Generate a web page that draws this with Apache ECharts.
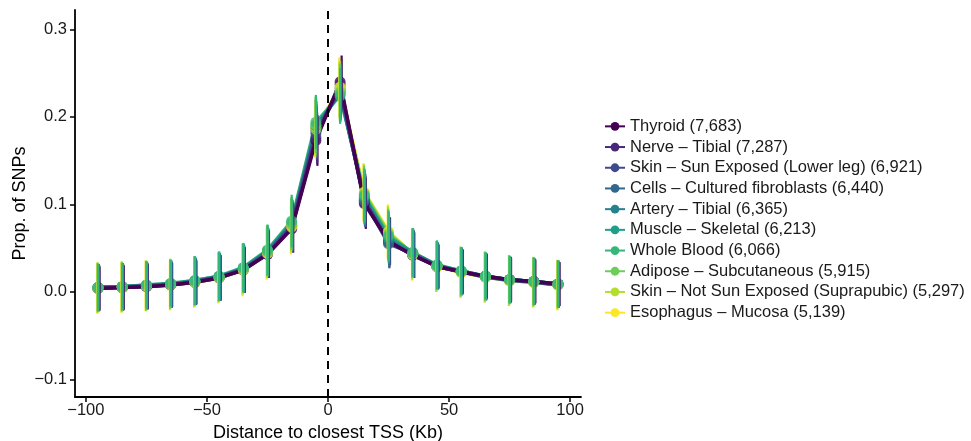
<!DOCTYPE html>
<html>
<head>
<meta charset="utf-8">
<script src="https://cdn.jsdelivr.net/npm/echarts@6/dist/echarts.min.js"></script>
<style>
  html, body { margin: 0; padding: 0; background: #ffffff; }
  #chart { width: 971px; height: 441px; }
</style>
</head>
<body>
<div id="chart"></div>
<script>
// Bin centres (Kb from the closest TSS)
const distances = [-95, -85, -75, -65, -55, -45, -35, -25, -15, -5, 5, 15, 25, 35, 45, 55, 65, 75, 85, 95];

// Tissue labels (number of SNPs in brackets)
const tissues = [
  'Thyroid (7,683)',
  'Nerve \u2013 Tibial (7,287)',
  'Skin \u2013 Sun Exposed (Lower leg) (6,921)',
  'Cells \u2013 Cultured fibroblasts (6,440)',
  'Artery \u2013 Tibial (6,365)',
  'Muscle \u2013 Skeletal (6,213)',
  'Whole Blood (6,066)',
  'Adipose \u2013 Subcutaneous (5,915)',
  'Skin \u2013 Not Sun Exposed (Suprapubic) (5,297)',
  'Esophagus \u2013 Mucosa (5,139)'
];

// Proportion of SNPs per bin, one list per tissue
const thyroid   = [0.004, 0.005, 0.006, 0.008, 0.011, 0.016, 0.025, 0.043, 0.072, 0.173, 0.240, 0.101, 0.058, 0.042, 0.029, 0.023, 0.018, 0.014, 0.012, 0.009];
const nerve     = [0.004, 0.005, 0.006, 0.008, 0.011, 0.016, 0.025, 0.043, 0.073, 0.176, 0.237, 0.103, 0.058, 0.042, 0.029, 0.023, 0.018, 0.014, 0.012, 0.009];
const skinSun   = [0.005, 0.005, 0.007, 0.008, 0.012, 0.017, 0.026, 0.044, 0.075, 0.181, 0.233, 0.105, 0.056, 0.043, 0.029, 0.023, 0.017, 0.014, 0.012, 0.008];
const cells     = [0.005, 0.006, 0.007, 0.009, 0.012, 0.017, 0.026, 0.045, 0.076, 0.184, 0.230, 0.104, 0.055, 0.044, 0.030, 0.023, 0.017, 0.013, 0.011, 0.008];
const artery    = [0.005, 0.006, 0.007, 0.009, 0.012, 0.017, 0.027, 0.046, 0.077, 0.187, 0.228, 0.107, 0.060, 0.044, 0.030, 0.024, 0.018, 0.014, 0.012, 0.009];
const muscle    = [0.005, 0.006, 0.008, 0.009, 0.013, 0.018, 0.027, 0.047, 0.079, 0.190, 0.226, 0.109, 0.062, 0.045, 0.030, 0.024, 0.018, 0.014, 0.012, 0.009];
const blood     = [0.005, 0.006, 0.008, 0.010, 0.013, 0.018, 0.028, 0.048, 0.081, 0.194, 0.224, 0.110, 0.064, 0.045, 0.031, 0.024, 0.018, 0.014, 0.012, 0.009];
const adipose   = [0.005, 0.006, 0.007, 0.009, 0.012, 0.017, 0.027, 0.047, 0.078, 0.191, 0.228, 0.112, 0.066, 0.044, 0.030, 0.023, 0.018, 0.014, 0.012, 0.009];
const skinNot   = [0.005, 0.006, 0.007, 0.009, 0.012, 0.017, 0.026, 0.046, 0.076, 0.188, 0.231, 0.113, 0.068, 0.043, 0.029, 0.023, 0.017, 0.013, 0.011, 0.008];
const esophagus = [0.004, 0.005, 0.007, 0.008, 0.011, 0.016, 0.025, 0.044, 0.074, 0.186, 0.234, 0.114, 0.069, 0.043, 0.029, 0.022, 0.017, 0.013, 0.011, 0.008];

// Half-width of the error bar per bin, one list per tissue
const thyroidErr   = [0.025, 0.025, 0.025, 0.025, 0.025, 0.026, 0.026, 0.027, 0.027, 0.029, 0.030, 0.029, 0.027, 0.026, 0.025, 0.025, 0.025, 0.025, 0.025, 0.025];
const nerveErr     = [0.026, 0.026, 0.026, 0.026, 0.026, 0.026, 0.026, 0.027, 0.028, 0.029, 0.030, 0.029, 0.027, 0.026, 0.026, 0.026, 0.026, 0.026, 0.025, 0.025];
const skinSunErr   = [0.026, 0.026, 0.026, 0.026, 0.026, 0.027, 0.027, 0.028, 0.028, 0.030, 0.031, 0.030, 0.028, 0.027, 0.026, 0.026, 0.026, 0.026, 0.026, 0.026];
const cellsErr     = [0.027, 0.027, 0.027, 0.027, 0.027, 0.027, 0.027, 0.028, 0.029, 0.030, 0.031, 0.030, 0.028, 0.027, 0.027, 0.027, 0.027, 0.026, 0.026, 0.026];
const arteryErr    = [0.027, 0.027, 0.027, 0.027, 0.027, 0.027, 0.028, 0.028, 0.029, 0.031, 0.032, 0.031, 0.028, 0.027, 0.027, 0.027, 0.027, 0.027, 0.027, 0.027];
const muscleErr    = [0.027, 0.027, 0.027, 0.027, 0.027, 0.028, 0.028, 0.029, 0.029, 0.031, 0.032, 0.031, 0.029, 0.028, 0.027, 0.027, 0.027, 0.027, 0.027, 0.027];
const bloodErr     = [0.027, 0.027, 0.027, 0.027, 0.028, 0.028, 0.028, 0.029, 0.030, 0.031, 0.032, 0.031, 0.029, 0.028, 0.028, 0.027, 0.027, 0.027, 0.027, 0.027];
const adiposeErr   = [0.028, 0.028, 0.028, 0.028, 0.028, 0.028, 0.028, 0.029, 0.030, 0.032, 0.033, 0.032, 0.029, 0.028, 0.028, 0.028, 0.028, 0.028, 0.028, 0.027];
const skinNotErr   = [0.029, 0.029, 0.029, 0.029, 0.029, 0.029, 0.029, 0.030, 0.031, 0.032, 0.033, 0.033, 0.030, 0.029, 0.029, 0.029, 0.029, 0.029, 0.028, 0.028];
const esophagusErr = [0.029, 0.029, 0.029, 0.029, 0.029, 0.029, 0.030, 0.030, 0.031, 0.033, 0.034, 0.033, 0.031, 0.030, 0.029, 0.029, 0.029, 0.029, 0.029, 0.029];

// Viridis palette, one colour per tissue
const colors = ['#440154', '#482878', '#3E4A89', '#31688E', '#26828E', '#1F9E89', '#35B779', '#6DCD59', '#B4DE2C', '#FDE725'];

// Axis ticks
const xTicks = [-100, -50, 0, 50, 100];
const yTicks = [-0.1, 0.0, 0.1, 0.2, 0.3];

const means = [thyroid, nerve, skinSun, cells, artery, muscle, blood, adipose, skinNot, esophagus];
const errs = [thyroidErr, nerveErr, skinSunErr, cellsErr, arteryErr, muscleErr, bloodErr, adiposeErr, skinNotErr, esophagusErr];

const fmtMinus = v => String(v).replace('-', '\u2212');
const fmtY = v => fmtMinus(Number(v).toFixed(1));

// Stacking: greens sit on top of the overlapping points and bars,
// tissues further along the palette from them go underneath.
const FRONT = 6;
const stackRank = i => 1 - Math.abs(i - FRONT) / 10;
// small horizontal dodge (px) so overlapping bars stay distinguishable
const dodgePx = i => (FRONT - i) * 0.25;

const series = [];
// connecting lines (first tissue on top)
tissues.forEach((name, i) => {
  series.push({
    name: name,
    type: 'line',
    data: distances.map((d, k) => [d, means[i][k]]),
    symbol: 'circle',
    symbolSize: 10,
    showSymbol: false,
    lineStyle: { color: colors[i], width: 3.5 },
    itemStyle: { color: colors[i] },
    z: 2 + (tissues.length - i) * 0.01,
    animation: false,
    emphasis: { disabled: true },
    markLine: i === 0 ? {
      silent: true,
      symbol: ['none', 'none'],
      label: { show: false },
      lineStyle: { color: '#000000', type: [8, 6], width: 2 },
      data: [{ xAxis: 0 }]
    } : undefined
  });
});
// points
tissues.forEach((name, i) => {
  series.push({
    name: name + ' points',
    type: 'scatter',
    data: distances.map((d, k) => [d, means[i][k]]),
    symbol: 'circle',
    symbolSize: 11,
    itemStyle: { color: colors[i] },
    z: 3 + stackRank(i) * 0.1,
    animation: false,
    silent: true
  });
});
// vertical error bars
tissues.forEach((name, i) => {
  series.push({
    name: name + ' error',
    type: 'custom',
    data: distances.map((d, k) => [d, means[i][k] - errs[i][k], means[i][k] + errs[i][k]]),
    encode: { x: 0, y: [1, 2] },
    z: 4 + stackRank(i) * 0.1,
    animation: false,
    silent: true,
    renderItem: function (params, api) {
      const lo = api.coord([api.value(0), api.value(1)]);
      const hi = api.coord([api.value(0), api.value(2)]);
      const dx = dodgePx(i);
      return {
        type: 'line',
        shape: { x1: lo[0] + dx, y1: lo[1], x2: hi[0] + dx, y2: hi[1] },
        style: { stroke: colors[i], lineWidth: 2.2 }
      };
    }
  });
});

const chart = echarts.init(document.getElementById('chart'), null, { renderer: 'canvas' });
chart.setOption({
  backgroundColor: '#ffffff',
  animation: false,
  textStyle: { fontFamily: 'Liberation Sans, Arial, sans-serif' },
  grid: { left: 75, top: 10, width: 506, height: 387, containLabel: false, outerBoundsMode: 'none' },
  xAxis: {
    type: 'value',
    min: -104.5,
    max: 104.5,
    name: 'Distance to closest TSS (Kb)',
    nameLocation: 'middle',
    nameGap: 27,
    nameTextStyle: { fontSize: 18, color: '#000000' },
    axisLine: { show: true, onZero: false, lineStyle: { color: '#000000', width: 1.8 } },
    axisTick: { show: true, length: 5, customValues: xTicks, lineStyle: { color: '#000000', width: 1.5 } },
    axisLabel: { customValues: xTicks, fontSize: 16.5, color: '#1a1a1a', margin: 5, formatter: fmtMinus },
    splitLine: { show: false }
  },
  yAxis: {
    type: 'value',
    min: -0.12,
    max: 0.322,
    name: 'Prop. of SNPs',
    nameLocation: 'middle',
    nameGap: 46,
    nameMoveOverlap: false,
    nameTextStyle: { fontSize: 18, color: '#000000' },
    axisLine: { show: true, onZero: false, lineStyle: { color: '#000000', width: 1.8 } },
    axisTick: { show: true, length: 5, customValues: yTicks, lineStyle: { color: '#000000', width: 1.5 } },
    axisLabel: { customValues: yTicks, fontSize: 16.5, color: '#1a1a1a', margin: 8, formatter: fmtY },
    splitLine: { show: false }
  },
  legend: {
    data: tissues,
    orient: 'vertical',
    left: 599,
    top: 111,
    itemWidth: 20,
    itemHeight: 11,
    itemGap: 0,
    selectedMode: false,
    textStyle: { fontSize: 16.5, color: '#1a1a1a', lineHeight: 20.7 }
  },
  series: series
});
</script>
</body>
</html>
